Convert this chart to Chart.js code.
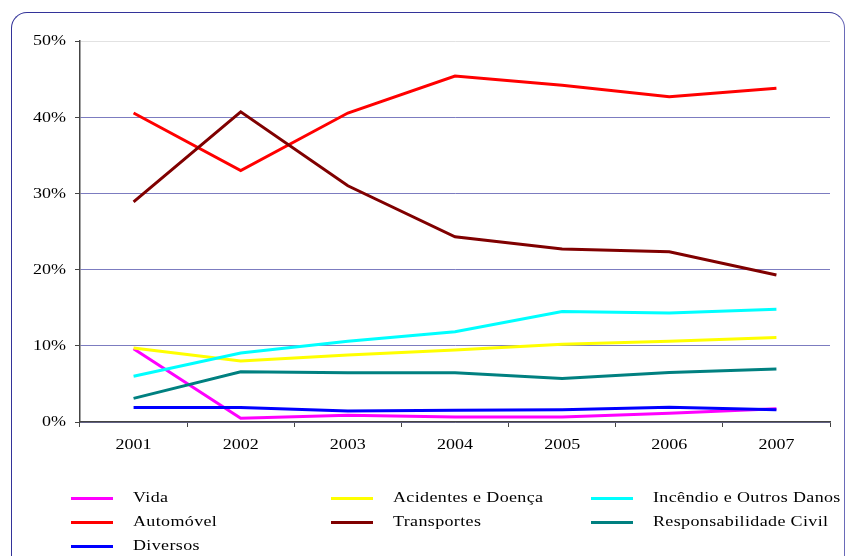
<!DOCTYPE html>
<html>
<head>
<meta charset="utf-8">
<script src="https://cdn.jsdelivr.net/npm/chart.js@4"></script>
<style>
  html, body { margin: 0; padding: 0; background: #fff; }
  #wrap { position: relative; width: 846px; height: 556px; overflow: hidden; }
  #frame {
    position: absolute; left: 11px; top: 12px; width: 834px; height: 560px;
    border: 1.5px solid #333399; border-right-color: #6a6ab8; border-radius: 16px;
    box-sizing: border-box; pointer-events: none;
  }
  canvas { position: absolute; left: 0; top: 0; }
  .lg { position: absolute; font: 15px "Liberation Serif", "Times New Roman", serif;
        color: #000; letter-spacing: 0.3px; white-space: nowrap; line-height: 18px;
        transform: scaleX(1.2); transform-origin: 0 50%; }
  .sw { position: absolute; height: 3px; width: 42px; }
</style>
</head>
<body>
<div id="wrap">
  <canvas id="c" width="846" height="556"></canvas>
  <div id="legend"></div>
  <div id="frame"></div>
</div>
<script>
// Years on the horizontal axis
const years = ['2001', '2002', '2003', '2004', '2005', '2006', '2007'];

// Share of each line of business (%)
const vida          = [9.6, 0.5, 0.9, 0.65, 0.65, 1.15, 1.75];
const acidentes     = [9.7, 8.0, 8.8, 9.45, 10.2, 10.6, 11.1];
const incendio      = [6.0, 9.05, 10.6, 11.85, 14.5, 14.3, 14.8];
const automovel     = [40.55, 33.0, 40.55, 45.4, 44.2, 42.7, 43.8];
const transportes   = [28.9, 40.7, 31.0, 24.3, 22.7, 22.35, 19.3];
const responsab     = [3.1, 6.6, 6.45, 6.45, 5.7, 6.5, 6.95];
const diversos      = [1.9, 1.9, 1.45, 1.55, 1.6, 1.95, 1.6];

// Y axis tick values (%)
const yTicks = [0, 10, 20, 30, 40, 50];

const series = [
  { label: 'Vida', data: vida, color: '#ff00ff' },
  { label: 'Acidentes e Doença', data: acidentes, color: '#ffff00' },
  { label: 'Incêndio e Outros Danos', data: incendio, color: '#00ffff' },
  { label: 'Automóvel', data: automovel, color: '#ff0000' },
  { label: 'Transportes', data: transportes, color: '#800000' },
  { label: 'Responsabilidade Civil', data: responsab, color: '#008080' },
  { label: 'Diversos', data: diversos, color: '#0000ff' }
];

const serif = "'Liberation Serif', 'Times New Roman', serif";
const STRETCH = 1.2;   // wide serif lettering for the axis labels

// Axis labels drawn with a horizontal stretch
const axisLabels = {
  id: 'axisLabels',
  afterDraw(chart) {
    const { ctx, chartArea, scales: { x, y } } = chart;
    ctx.save();
    ctx.fillStyle = '#000';
    ctx.font = '15px ' + serif;
    ctx.textBaseline = 'middle';
    ctx.textAlign = 'right';
    yTicks.forEach(v => {
      ctx.save();
      ctx.translate(chartArea.left - 14, y.getPixelForValue(v) + 0.5);
      ctx.scale(STRETCH, 1);
      ctx.fillText(v + '%', 0, 0);
      ctx.restore();
    });
    ctx.textAlign = 'center';
    years.forEach((lab, i) => {
      ctx.save();
      ctx.translate(x.getPixelForValue(i), chartArea.bottom + 23);
      ctx.scale(STRETCH, 1);
      ctx.fillText(lab, 0, 0);
      ctx.restore();
    });
    ctx.restore();
  }
};

const chart = new Chart(document.getElementById('c'), {
  type: 'line',
  data: {
    labels: years,
    datasets: series.map((s, i) => ({
      label: s.label,
      data: s.data,
      borderColor: s.color,
      backgroundColor: s.color,
      borderWidth: 3,
      pointRadius: 0,
      tension: 0,
      fill: false,
      order: series.length - i
    }))
  },
  plugins: [axisLabels],
  options: {
    responsive: false,
    animation: false,
    layout: { padding: { left: 0, right: 16, top: 41, bottom: 100 } },
    plugins: { legend: { display: false }, tooltip: { enabled: false } },
    scales: {
      x: {
        offset: true,
        grid: { display: true, drawOnChartArea: false, drawTicks: true, tickLength: 5,
                offset: true, color: '#444', lineWidth: 1 },
        border: { display: true, color: '#444', width: 1.5 },
        ticks: { display: false },
        afterFit: s => { s.height = 34; }
      },
      y: {
        min: 0, max: 50,
        afterBuildTicks: s => { s.ticks = yTicks.map(v => ({ value: v })); },
        grid: {
          drawTicks: true, tickLength: 5,
          color: ctx => (ctx.tick && ctx.tick.value === 50) ? '#e2e2e2' : '#7c7cc0',
          tickColor: '#444',
          lineWidth: 1
        },
        border: { display: true, color: '#444', width: 1.5 },
        ticks: { display: false },
        afterFit: s => { s.width = 80; }
      }
    }
  }
});

// Three-column legend below the plot
const legend = document.getElementById('legend');
const colX = [71, 331, 591];
const rowY = [498, 522, 546];
series.forEach((s, i) => {
  const col = i % 3, row = Math.floor(i / 3);
  const sw = document.createElement('div');
  sw.className = 'sw';
  sw.style.left = colX[col] + 'px';
  sw.style.top = (rowY[row] - 1.5) + 'px';
  sw.style.background = s.color;
  legend.appendChild(sw);
  const t = document.createElement('div');
  t.className = 'lg';
  t.textContent = s.label;
  t.style.left = (colX[col] + 62) + 'px';
  t.style.top = (rowY[row] - 10) + 'px';
  legend.appendChild(t);
});
</script>
</body>
</html>
